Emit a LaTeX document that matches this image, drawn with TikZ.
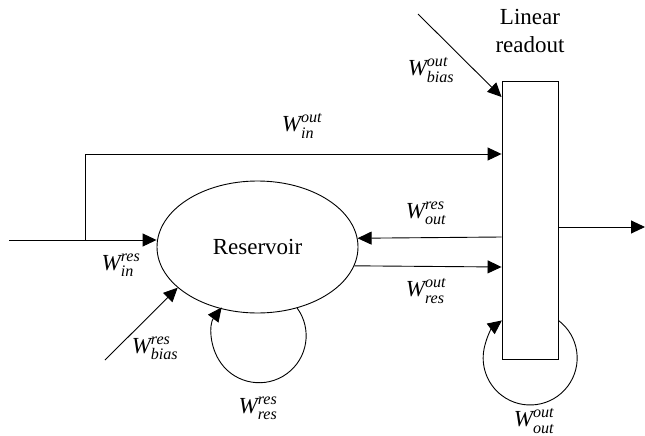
\documentclass[tikz,border=0pt]{standalone}
\usepackage{amsmath}
\usepackage{fontspec}
\setmainfont{Liberation Serif}
\usetikzlibrary{shapes.geometric,arrows.meta}
\newcommand\Wlab[2]{$\textit{W}^{\textit{#1}}_{\textit{#2}}$}
\begin{document}
\begin{tikzpicture}[x=1pt,y=-1pt,
  every node/.style={font=\fontsize{23}{28}\selectfont},
  arr/.style={draw,line width=0.9pt,-{Triangle[length=14pt,width=13pt]}},
  ln/.style={draw,line width=0.9pt},
  lab/.style={inner sep=0pt,anchor=center}]
\useasboundingbox (0,0) rectangle (645,436);
% main shapes
\node[ellipse,draw,line width=0.9pt,minimum width=201pt,minimum height=132pt,inner sep=0pt] (res) at (257.5,247) {Reservoir};
\node[rectangle,draw,line width=0.9pt,minimum width=56pt,minimum height=278pt,inner sep=0pt] (ro) at (530,220) {};
\node[lab,align=center] (rotitle) at (530,31) {Linear\\readout};
% coordinates
\coordinate (in) at (9,240);
\coordinate (br) at (85,240);
\coordinate (top) at (85,154);
\coordinate (bo) at (418,14);
\coordinate (br0) at (105,360);
\coordinate (outp) at (645,227);
% connectors
\draw[arr] (in) -- (res.west |- in);
\draw[ln] (br) -- (top);
\draw[arr] (top) -- (top -| ro.west);
\draw[arr] (ro.west |- 0,237) -- (res.5.75);
\draw[arr] (res.-11.8) -- (ro.west |- 0,267);
\draw[arr] (ro.east |- outp) -- (outp);
\draw[arr] (bo) -- (ro.west |- 0,97);
\draw[arr] (br0) -- (res.207);
\draw[arr] (res.-57) arc[start angle=-36,end angle=217,radius=47];
\draw[arr] ([yshift=39pt]ro.south east) arc[start angle=-53,end angle=233,radius=47];
% labels
\node[lab] (l1) at (302,126) {\Wlab{out}{in}};
\node[lab] (l2) at (121,265) {\Wlab{res}{in}};
\node[lab] (l3) at (426,213) {\Wlab{res}{out}};
\node[lab] (l4) at (426,291) {\Wlab{out}{res}};
\node[lab] (l5) at (431,70) {\Wlab{out}{bias}};
\node[lab] (l6) at (155,348) {\Wlab{res}{bias}};
\node[lab] (l7) at (258,408) {\Wlab{res}{res}};
\node[lab] (l8) at (534,421) {\Wlab{out}{out}};
\end{tikzpicture}
\end{document}
